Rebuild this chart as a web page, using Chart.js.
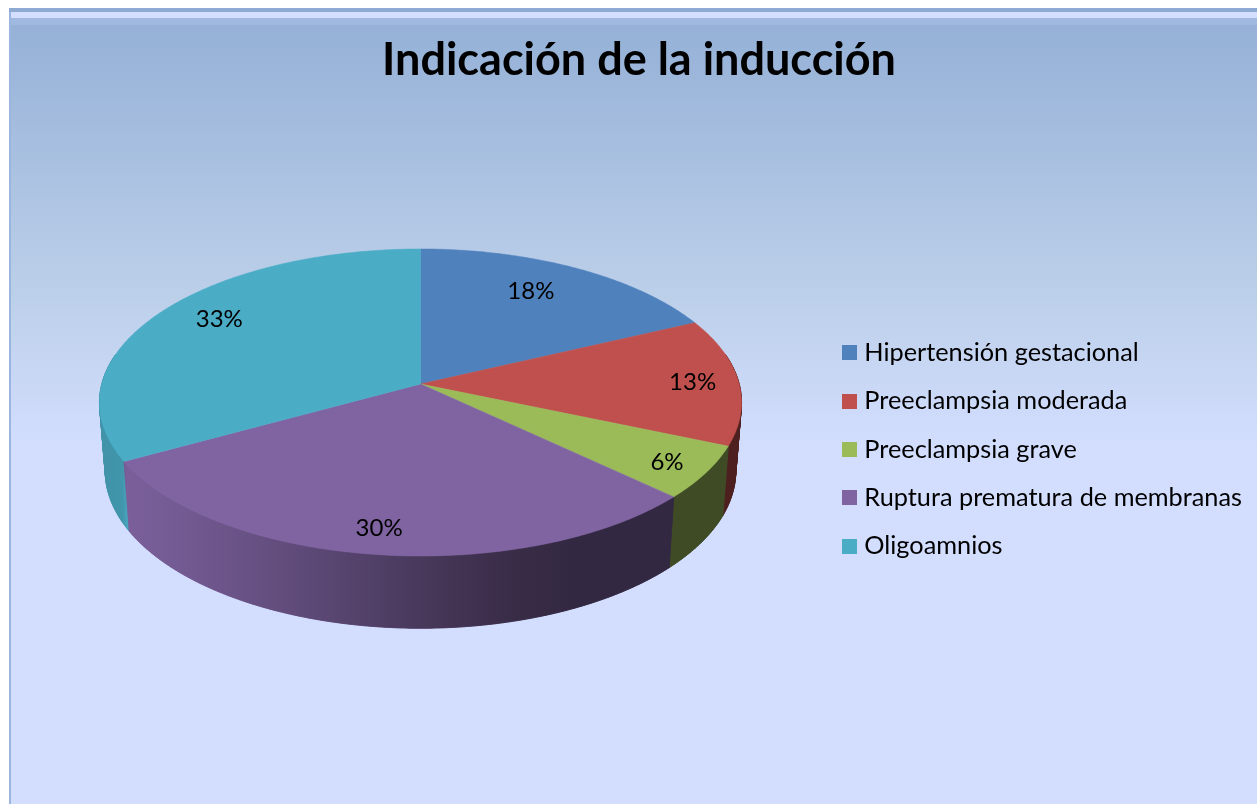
<!DOCTYPE html>
<html lang="es">
<head>
<meta charset="utf-8">
<title>Indicación de la inducción</title>
<script src="https://cdn.jsdelivr.net/npm/chart.js@4/dist/chart.umd.min.js"></script>
<style>
html,body{margin:0;padding:0;background:#fff;overflow:hidden}
#wrap{position:absolute;left:0;top:0;width:1257px;height:804px}
</style>
</head>
<body>
<div id="wrap"><canvas id="c" width="1257" height="804"></canvas></div>
<script>
const titleText = 'Indicación de la inducción';
const categories = ['Hipertensión gestacional','Preeclampsia moderada','Preeclampsia grave','Ruptura prematura de membranas','Oligoamnios'];
const values = [18,13.4,5.6,30,33];
const colors = ['#4F81BD','#C0504D','#9BBB59','#8064A2','#4BACC6'];
const labelNudges = [[-13,0],[24,0],[27,10],[-7,15],[3,-7]];

const TOP = {cx:420.5, cy:384, rx:318.7, ry:151.3};
const BASE = {cx:420.5, cy:452, rx:313, ry:155};
const PERSP = 0.1205;
const project = (f, a, r=1) => {
  const u = r*Math.cos(a), v = r*Math.sin(a), w = 1 - PERSP*v;
  return [f.cx + f.rx*u/w, f.cy + f.ry*v/w];
};
const rgb = h => [1,3,5].map(i => parseInt(h.slice(i,i+2),16));
const shadeStops = [[0,.85],[.035,.87],[.042,.95],[.1,.92],[.25,.8],[.4,.66],[.55,.52],[.65,.44],[.75,.4],[1,.4]];

function arcPoints(f, a0, a1, r=1){
  const n = Math.max(2, Math.ceil(Math.abs(a1-a0)/0.01)), pts = [];
  for (let i=0;i<=n;i++) pts.push(project(f, a0+(a1-a0)*i/n, r));
  return pts;
}
function trace(ctx, pts){
  ctx.beginPath();
  pts.forEach((p,i)=> i ? ctx.lineTo(p[0],p[1]) : ctx.moveTo(p[0],p[1]));
  ctx.closePath();
}

const backdrop = {
  id:'backdrop',
  beforeDraw(chart){
    const {ctx,width,height} = chart;
    ctx.save();
    ctx.fillStyle='#ffffff'; ctx.fillRect(0,0,width,height);
    const g = ctx.createLinearGradient(0,25,0,450);
    g.addColorStop(0,'#95B1D7'); g.addColorStop(.647,'#BDD0EA'); g.addColorStop(1,'#D3DEFF');
    ctx.fillStyle=g; ctx.fillRect(9,25,width-9,height-25);
    ctx.fillStyle='#8EAAD2'; ctx.fillRect(9,8,width-9,4);
    ctx.fillStyle='#D4DEFF'; ctx.fillRect(11,12,width-11,6);
    ctx.fillStyle='#A1B9E0'; ctx.fillRect(11,18,width-11,7);
    ctx.fillStyle='#9AB6DE'; ctx.fillRect(9,12,2,height-12);
    ctx.restore();
  }
};

const pie3d = {
  id:'pie3d',
  beforeDatasetDraw(chart, args){
    const {ctx} = chart;
    const arcs = chart.getDatasetMeta(args.index).data;
    ctx.save();
    const lo = -0.2, hi = Math.PI+0.2;
    const walls = [];
    arcs.forEach((arc,i)=>{
      const a0 = Math.max(arc.startAngle,lo), a1 = Math.min(arc.endAngle,hi);
      if (a1>a0) walls.push({i,a0,a1});
    });
    walls.sort((p,q)=>Math.sin((p.a0+p.a1)/2)-Math.sin((q.a0+q.a1)/2));
    walls.forEach(({i,a0,a1})=>{
      const base = rgb(arcs[i].options.backgroundColor);
      const g = ctx.createLinearGradient(100,0,740,0);
      shadeStops.forEach(([t,s])=>g.addColorStop(t,`rgb(${base.map(c=>Math.round(c*s)).join(',')})`));
      const t = arcPoints(TOP,a0,a1), b = arcPoints(BASE,a0,a1);
      ctx.fillStyle=g; ctx.strokeStyle=g; ctx.lineWidth=.6;
      trace(ctx,t.concat(b.slice().reverse()));
      ctx.fill(); ctx.stroke();
      for (let k=0;k<t.length-1;k++){
        trace(ctx,[t[k],t[k+1],b[k+1],b[k]]);
        ctx.fill(); ctx.stroke();
      }
    });
    arcs.forEach(arc=>{
      trace(ctx, [[TOP.cx,TOP.cy]].concat(arcPoints(TOP,arc.startAngle,arc.endAngle)));
      ctx.fillStyle=arc.options.backgroundColor; ctx.strokeStyle=arc.options.backgroundColor; ctx.lineWidth=.5;
      ctx.fill(); ctx.stroke();
    });
    const total = values.reduce((s,v)=>s+v,0);
    ctx.fillStyle='#000'; ctx.font='24px Lato'; ctx.textAlign='center'; ctx.textBaseline='middle';
    arcs.forEach((arc,i)=>{
      const [x,y] = project(TOP,(arc.startAngle+arc.endAngle)/2,.78);
      ctx.fillText(Math.round(values[i]/total*100)+'%', x+labelNudges[i][0], y+labelNudges[i][1]);
    });
    ctx.restore();
    return false;
  }
};

function swatch(color){
  const c=document.createElement('canvas'); c.width=15; c.height=15;
  const x=c.getContext('2d'); x.fillStyle=color; x.fillRect(0,0,15,15);
  return c;
}
const swatches = colors.map(swatch);

new Chart(document.getElementById('c'),{
  type:'pie',
  data:{labels:categories,datasets:[{data:values,backgroundColor:colors,borderWidth:0}]},
  plugins:[backdrop,pie3d],
  options:{
    responsive:false, animation:false, events:[],
    layout:{padding:{left:26,right:5,top:33,bottom:0}},
    plugins:{
      tooltip:{enabled:false},
      title:{display:true,text:titleText,color:'#000',
        font:{family:'Lato',size:45,weight:'bold',lineHeight:1.2},padding:{top:0,bottom:8}},
      legend:{position:'right',fullSize:false,
        labels:{color:'#000',font:{family:'Lato',size:25.3},padding:23,usePointStyle:true,pointStyleWidth:5,
          generateLabels(chart){
            return categories.map((t,i)=>({text:t,pointStyle:swatches[i],fillStyle:colors[i],strokeStyle:colors[i],lineWidth:0,index:i,hidden:false}));
          }}}
    }
  }
});
</script>
</body>
</html>
